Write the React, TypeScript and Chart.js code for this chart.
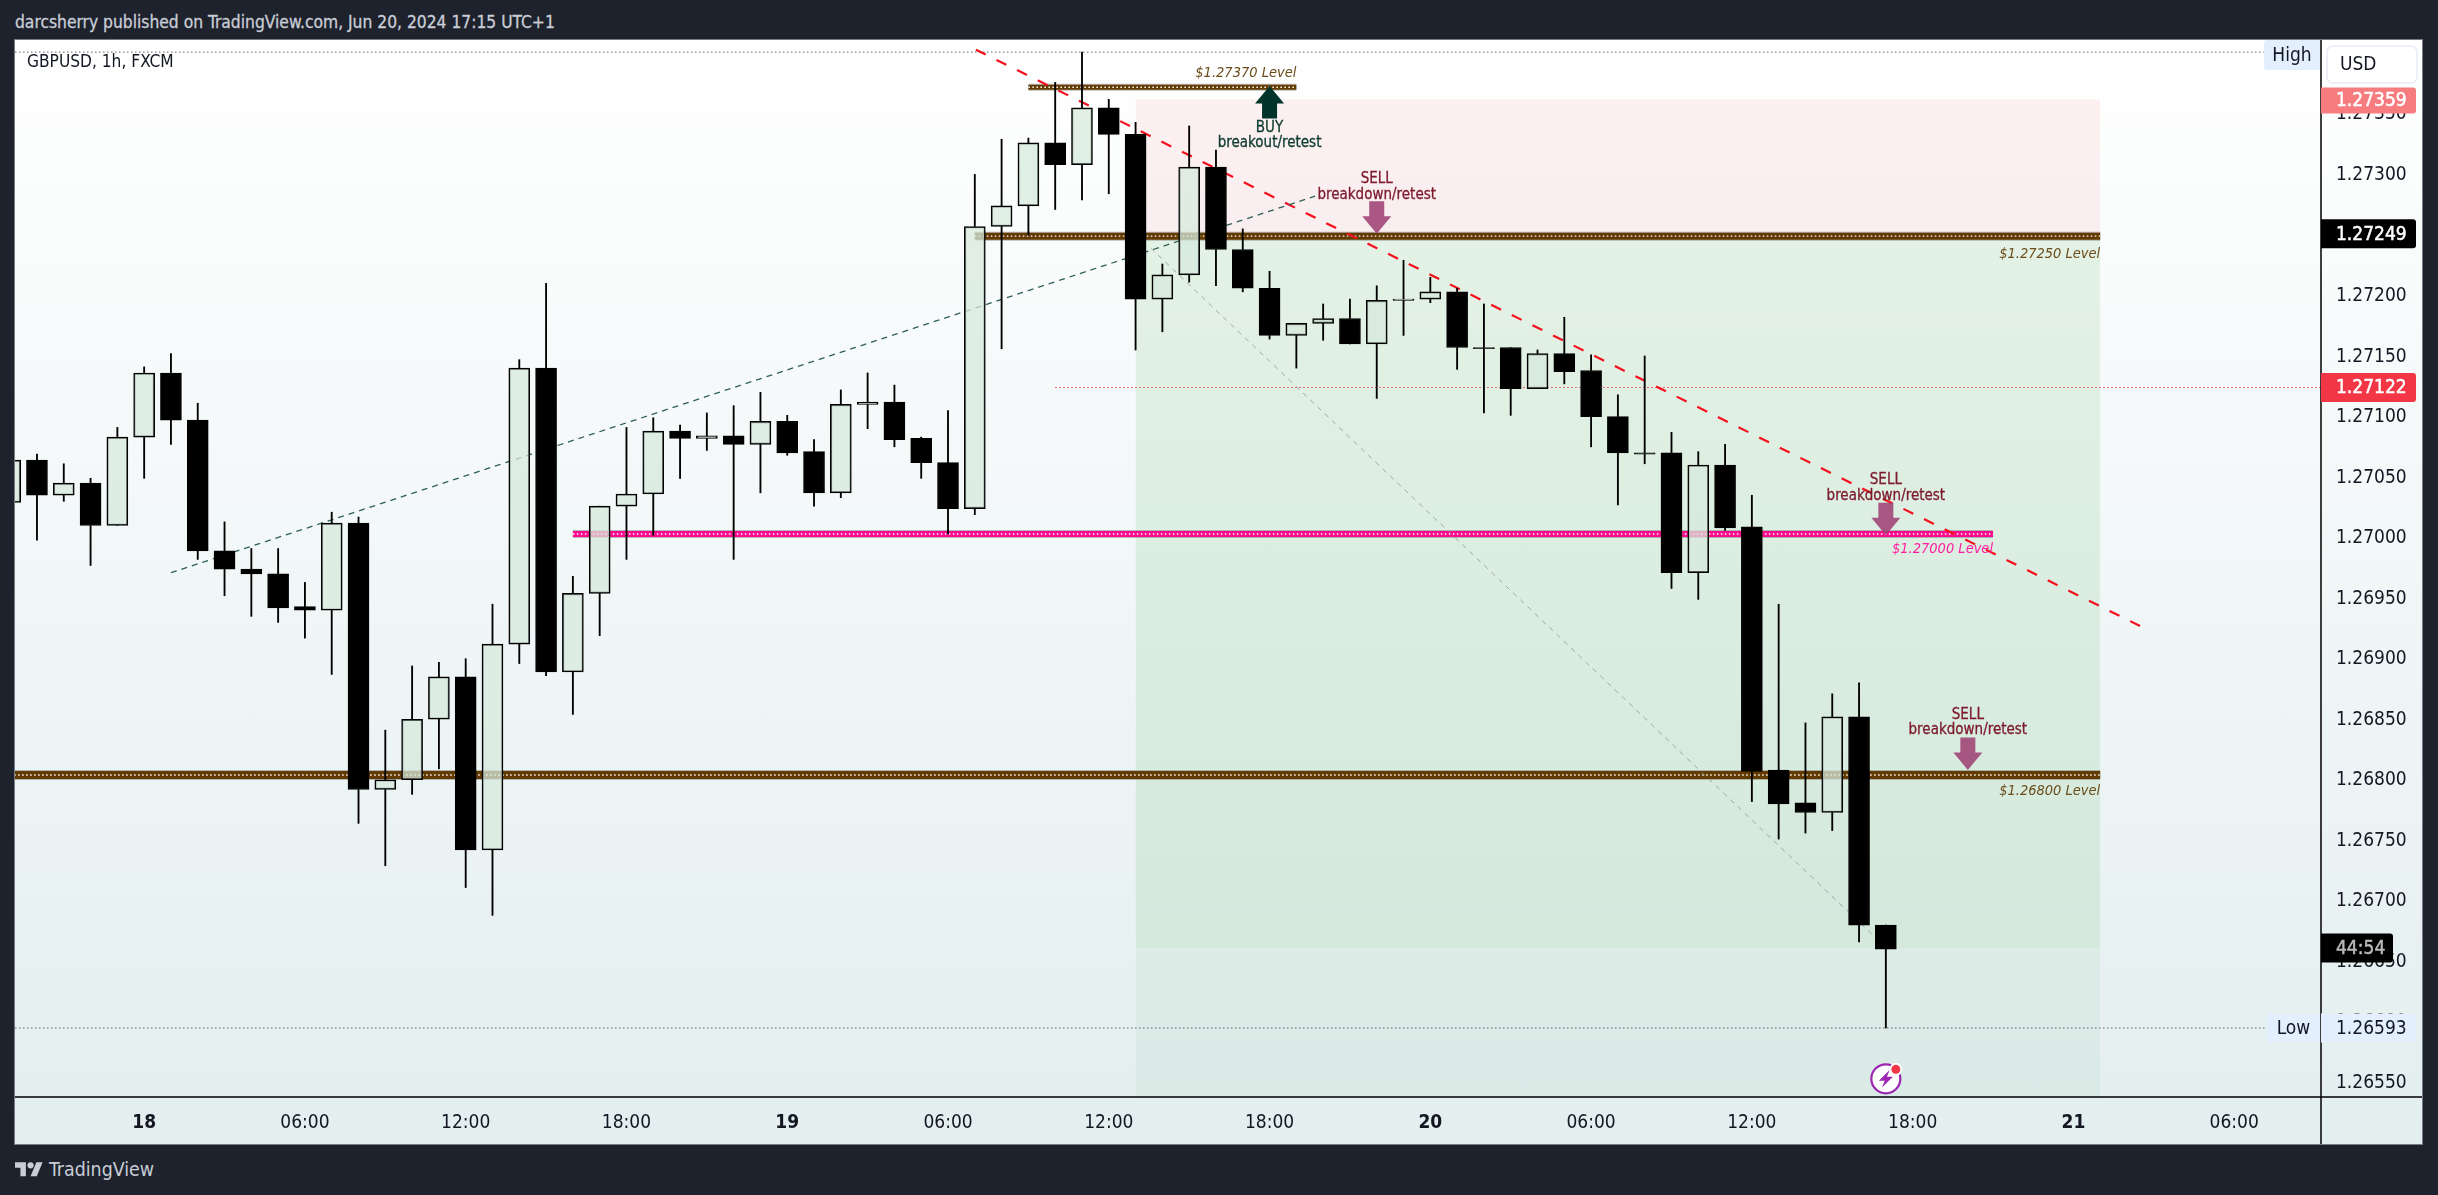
import { useEffect, useRef } from 'react'
import Chart from 'chart.js/auto'

const FONT = '"DejaVu Sans Condensed", "DejaVu Sans", sans-serif'
const CANVAS_W = 2407
const CANVAS_H = 1104

// hours counted from Jun 18 00:00
const hours = [
  -5, -4, -3, -2, -1, 0, 1, 2, 3, 4, 5, 6, 7, 8, 9, 10, 11, 12, 13, 14, 15, 16, 17, 18,
  19, 20, 21, 22, 23, 24, 25, 26, 27, 28, 29, 30, 31, 32, 33, 34, 35, 36, 37, 38, 39, 40, 41, 42,
  43, 44, 45, 46, 47, 48, 49, 50, 51, 52, 53, 54, 55, 56, 57, 58, 59, 60, 61, 62, 63, 64, 65,
]
const opens = [
  1.27027, 1.27062, 1.27033, 1.27043, 1.27008, 1.27081, 1.27134, 1.27095, 1.26987, 1.26972, 1.26968, 1.26941,
  1.26938, 1.2701, 1.2679, 1.26798, 1.26848, 1.26883, 1.2674, 1.2691, 1.27138, 1.26887, 1.26952, 1.27024,
  1.27034, 1.27086, 1.2708, 1.27082, 1.27075, 1.27094, 1.27069, 1.27035, 1.27108, 1.2711, 1.2708, 1.2706,
  1.27022, 1.27255, 1.27272, 1.27324, 1.27306, 1.27353, 1.27331, 1.27195, 1.27215, 1.27304, 1.27236, 1.27204,
  1.27165, 1.27175, 1.27179, 1.27158, 1.27194, 1.27195, 1.27201, 1.27155, 1.27155, 1.27121, 1.2715, 1.27136,
  1.27098, 1.27068, 1.27068, 1.26969, 1.27058, 1.27007, 1.26806, 1.26779, 1.26771, 1.2685, 1.26678,
]
const closes = [
  1.27062, 1.27033, 1.27043, 1.27008, 1.27081, 1.27134, 1.27095, 1.26987, 1.26972, 1.26968, 1.2694, 1.26938,
  1.2701, 1.2679, 1.26798, 1.26848, 1.26883, 1.2674, 1.2691, 1.27138, 1.26887, 1.26952, 1.27024, 1.27034,
  1.27086, 1.2708, 1.27082, 1.27075, 1.27094, 1.27068, 1.27035, 1.27108, 1.2711, 1.27079, 1.2706, 1.27022,
  1.27255, 1.27272, 1.27324, 1.27306, 1.27353, 1.27331, 1.27195, 1.27215, 1.27304, 1.27236, 1.27204, 1.27165,
  1.27175, 1.27179, 1.27158, 1.27194, 1.27195, 1.27201, 1.27155, 1.27154, 1.27121, 1.2715, 1.27135, 1.27098,
  1.27068, 1.27067, 1.26969, 1.27058, 1.27006, 1.26805, 1.26778, 1.26771, 1.2685, 1.26678, 1.26658,
]
const highs = [
  1.27062, 1.27067, 1.27059, 1.27047, 1.27089, 1.27139, 1.2715, 1.27109, 1.27011, 1.26989, 1.26989, 1.26961,
  1.27019, 1.27015, 1.26839, 1.26892, 1.26895, 1.26898, 1.26943, 1.27145, 1.27208, 1.26966, 1.27024, 1.27089,
  1.27097, 1.27091, 1.27101, 1.27107, 1.27118, 1.27099, 1.27079, 1.2712, 1.27134, 1.27124, 1.27081, 1.27103,
  1.27298, 1.27327, 1.27328, 1.27374, 1.27399, 1.2736, 1.27341, 1.27224, 1.27338, 1.27318, 1.27253, 1.27218,
  1.27175, 1.27191, 1.27195, 1.27206, 1.27227, 1.27213, 1.27204, 1.27191, 1.27155, 1.27153, 1.2718, 1.27149,
  1.27116, 1.27148, 1.27085, 1.27069, 1.27075, 1.27033, 1.26943, 1.26845, 1.26869, 1.26878, 1.26678,
]
const lows = [
  1.27027, 1.26996, 1.27028, 1.26975, 1.27008, 1.27047, 1.27075, 1.2698, 1.2695, 1.26933, 1.26928, 1.26915,
  1.26885, 1.26762, 1.26727, 1.26786, 1.26807, 1.26709, 1.26686, 1.26894, 1.26884, 1.26852, 1.26917, 1.2698,
  1.27, 1.27047, 1.2707, 1.2698, 1.27035, 1.27066, 1.27024, 1.27031, 1.27088, 1.27073, 1.27047, 1.27001,
  1.27017, 1.27154, 1.27248, 1.27269, 1.27277, 1.27282, 1.27153, 1.27168, 1.27209, 1.27206, 1.27201, 1.27162,
  1.27138, 1.27161, 1.27158, 1.27113, 1.27165, 1.27192, 1.27137, 1.27101, 1.27099, 1.27121, 1.27125, 1.27073,
  1.27025, 1.27059, 1.26956, 1.26947, 1.27004, 1.2678, 1.26749, 1.26754, 1.26756, 1.26664, 1.26593,
]

const xMin = -4.82
const xMax = 81.24
const yMin = 1.26536
const yMax = 1.27409

const timeTicks = [0, 6, 12, 18, 24, 30, 36, 42, 48, 54, 60, 66, 72, 78]
const timeLabels = ['18', '06:00', '12:00', '18:00', '19', '06:00', '12:00', '18:00', '20', '06:00', '12:00', '18:00', '21', '06:00']
const priceTicks = [
  1.2655, 1.266, 1.2665, 1.267, 1.2675, 1.268, 1.2685, 1.269, 1.2695, 1.27, 1.2705, 1.271, 1.2715, 1.272, 1.2725, 1.273, 1.2735,
]

// horizontal levels: [start hour, end hour, price]
const brownLevels = [
  [33, 43, 1.2737],
  [31, 73, 1.27247],
  [-5, 73, 1.26802],
]
const brownWidths = [5, 7, 8]
const pinkLevel = [16, 69, 1.27001]

// trend lines: [start hour, start price, end hour, end price]
const redTrend = [31.04, 1.27401, 74.76, 1.26922]
const greenTrend = [1, 1.26969, 43.7, 1.2728]
const greyTrend = [37.57, 1.27237, 64.55, 1.26669]

// long position tool
const boxStart = 37
const boxEnd = 73
const stopPrice = 1.2736
const entryPrice = 1.27249
const targetPrice = 1.26659

const highPrice = 1.27399
const lowPrice = 1.26593
const lastPrice = 1.27122

const noteTexts = ['BUY', 'breakout/retest', 'SELL', 'breakdown/retest', 'SELL', 'breakdown/retest', 'SELL', 'breakdown/retest']
const noteHours = [42, 42, 46, 46, 65, 65, 68.06, 68.06]
const notePrices = [1.27337, 1.27325, 1.27295, 1.27282, 1.27046, 1.27033, 1.26852, 1.2684]
const noteColors = ['#0d3b30', '#0d3b30', '#7c1a2c', '#7c1a2c', '#7c1a2c', '#7c1a2c', '#7c1a2c', '#7c1a2c']

const levelTexts = ['$1.27370 Level', '$1.27250 Level', '$1.27000 Level', '$1.26800 Level']
const levelTextHours = [43, 73, 69, 73]
const levelTextPrices = [1.27382, 1.27233, 1.26989, 1.26789]
const levelTextColors = ['#6b4c1a', '#6b4c1a', '#ff1ea0', '#6b4c1a']

const sellArrowHours = [46, 65, 68.06]
const sellArrowPrices = [1.27249, 1.27, 1.26806]
const buyArrowHour = 42
const buyArrowPrice = 1.27371

const lightningHour = 65
const lightningPrice = 1.26551

const seg = (x0: number, y0: number, x1: number, y1: number) => [{ x: x0, y: y0 }, { x: x1, y: y1 }]

function lineSet(data: any[], color: string, width: number, dash: number[], order: number) {
  return {
    type: 'line' as const,
    data,
    borderColor: color,
    borderWidth: width,
    borderDash: dash,
    borderCapStyle: 'butt' as const,
    pointRadius: 0,
    tension: 0,
    order,
  }
}

function fillSet(x0: number, x1: number, top: number, bottom: number, color: string, order: number) {
  return {
    type: 'line' as const,
    data: seg(x0, top, x1, top),
    borderWidth: 0,
    pointRadius: 0,
    backgroundColor: color,
    fill: { value: bottom },
    order,
  }
}

function levelSets(level: number[], core: string, edge: string, width: number) {
  const d = seg(level[0], level[2], level[1], level[2])
  return [
    lineSet(d, edge, width + 2, [], 42),
    lineSet(d, core, width, [], 41),
    lineSet(d, '#ffffff', 1.4, [1.5, 2.5], 40),
  ]
}

const isUp = hours.map((_, i) => closes[i] >= opens[i])

function barSet(data: any[], thickness: number, fill: string, border: string, borderWidth: number, order: number) {
  return {
    type: 'bar' as const,
    data,
    barThickness: thickness,
    grouped: false,
    backgroundColor: fill,
    borderColor: border,
    borderWidth,
    borderSkipped: false,
    order,
  }
}

const annotations = {
  id: 'annotations',
  afterDatasetsDraw(chart: any) {
    const { ctx, scales } = chart
    const px = (h: number) => scales.x.getPixelForValue(h)
    const py = (p: number) => scales.y.getPixelForValue(p)
    ctx.save()
    ctx.textBaseline = 'middle'

    ctx.font = `15px ${FONT}`
    ctx.textAlign = 'center'
    ctx.lineWidth = 0.3
    noteTexts.forEach((t, i) => {
      ctx.fillStyle = noteColors[i]
      ctx.strokeStyle = noteColors[i]
      ctx.fillText(t, px(noteHours[i]), py(notePrices[i]) + 1)
      ctx.strokeText(t, px(noteHours[i]), py(notePrices[i]) + 1)
    })

    ctx.font = `italic 14.5px ${FONT}`
    ctx.textAlign = 'right'
    levelTexts.forEach((t, i) => {
      ctx.fillStyle = levelTextColors[i]
      ctx.fillText(t, px(levelTextHours[i]), py(levelTextPrices[i]) + 1)
    })

    // arrows
    const arrow = (x: number, tip: number, dir: number, color: string) => {
      ctx.fillStyle = color
      ctx.beginPath()
      ctx.moveTo(x, tip)
      ctx.lineTo(x + 14.5, tip + dir * 17.5)
      ctx.lineTo(x + 7.5, tip + dir * 17.5)
      ctx.lineTo(x + 7.5, tip + dir * 32.5)
      ctx.lineTo(x - 7.5, tip + dir * 32.5)
      ctx.lineTo(x - 7.5, tip + dir * 17.5)
      ctx.lineTo(x - 14.5, tip + dir * 17.5)
      ctx.closePath()
      ctx.fill()
    }
    arrow(px(buyArrowHour), py(buyArrowPrice), 1, '#00332a')
    sellArrowHours.forEach((h, i) => arrow(px(h), py(sellArrowPrices[i]), -1, 'rgba(158, 66, 116, 0.88)'))

    ctx.textAlign = 'left'
    ctx.font = `17.2px ${FONT}`
    ctx.fillStyle = '#131722'
    ctx.fillText('GBPUSD, 1h, FXCM', 12, 23)

    // lightning badge
    const bx = px(lightningHour)
    const by = py(lightningPrice)
    ctx.beginPath()
    ctx.arc(bx, by, 14.5, 0, Math.PI * 2)
    ctx.fillStyle = '#ffffff'
    ctx.fill()
    ctx.lineWidth = 2.2
    ctx.strokeStyle = '#9c27b0'
    ctx.stroke()
    ctx.fillStyle = '#9c27b0'
    ctx.beginPath()
    ctx.moveTo(bx + 4, by - 9)
    ctx.lineTo(bx - 7, by + 2)
    ctx.lineTo(bx - 1, by + 2)
    ctx.lineTo(bx - 4, by + 9)
    ctx.lineTo(bx + 7, by - 2)
    ctx.lineTo(bx + 1, by - 2)
    ctx.closePath()
    ctx.fill()
    ctx.beginPath()
    ctx.arc(bx + 10, by - 9.5, 6.5, 0, Math.PI * 2)
    ctx.fillStyle = '#ffffff'
    ctx.fill()
    ctx.beginPath()
    ctx.arc(bx + 10, by - 9.5, 4.5, 0, Math.PI * 2)
    ctx.fillStyle = '#f23645'
    ctx.fill()
    ctx.restore()
  },
  afterDraw(chart: any) {
    const { ctx, chartArea, scales, width, height } = chart
    const py = (p: number) => scales.y.getPixelForValue(p)
    const axisX = chartArea.right
    const axisY = chartArea.bottom
    ctx.save()
    ctx.strokeStyle = '#000000'
    ctx.lineWidth = 1.5
    ctx.beginPath()
    ctx.moveTo(axisX, 0)
    ctx.lineTo(axisX, height)
    ctx.moveTo(0, axisY)
    ctx.lineTo(width, axisY)
    ctx.stroke()

    ctx.textBaseline = 'middle'
    const tag = (text: string, price: number, w: number, h: number, bg: string, fg: string, heavy: boolean) => {
      const y = py(price)
      ctx.fillStyle = bg
      ctx.beginPath()
      ctx.roundRect(axisX, y - h / 2, w, h, [0, 3, 3, 0])
      ctx.fill()
      ctx.fillStyle = fg
      ctx.font = `19px ${FONT}`
      ctx.textAlign = 'left'
      ctx.fillText(text, axisX + 15, y + 1)
      if (heavy) {
        ctx.strokeStyle = fg
        ctx.lineWidth = 0.5
        ctx.strokeText(text, axisX + 15, y + 1)
      }
    }
    tag('1.27359', stopPrice - 0.00001, 95, 26, '#f77c80', '#ffffff', true)
    tag('1.27249', entryPrice, 95, 29, '#000000', '#ffffff', true)
    tag('1.27122', lastPrice, 95, 29, '#f23645', '#ffffff', true)
    tag('44:54', targetPrice, 72, 29, '#000000', '#b8b8b8', true)
    tag('1.26593', lowPrice, 95, 29, '#e3effd', '#131722', false)

    const sideTag = (text: string, y: number, x: number, w: number, h: number) => {
      ctx.fillStyle = '#e3effd'
      ctx.beginPath()
      ctx.roundRect(x, y - h / 2, w, h, [3, 0, 0, 3])
      ctx.fill()
      ctx.fillStyle = '#131722'
      ctx.font = `19px ${FONT}`
      ctx.textAlign = 'center'
      ctx.fillText(text, x + w / 2, y + 1)
    }
    sideTag('High', 15, axisX - 57, 56, 30)
    sideTag('Low', py(lowPrice), axisX - 54, 53, 29)

    ctx.fillStyle = '#ffffff'
    ctx.strokeStyle = '#e8ebf5'
    ctx.lineWidth = 1.5
    ctx.beginPath()
    ctx.roundRect(axisX + 6, 6, 90, 37, 6)
    ctx.fill()
    ctx.stroke()
    ctx.fillStyle = '#131722'
    ctx.font = `19px ${FONT}`
    ctx.textAlign = 'left'
    ctx.fillText('USD', axisX + 19, 25)
    ctx.restore()
  },
}

export default function App() {
  const canvasRef = useRef<HTMLCanvasElement>(null)

  useEffect(() => {
    if (!canvasRef.current) return
    document.body.style.margin = '0'

    const upBodies = hours.flatMap((h, i) => (isUp[i] ? [{ x: h, y: [opens[i], closes[i]] }] : []))
    const downBodies = hours.flatMap((h, i) => (isUp[i] ? [] : [{ x: h, y: [opens[i], closes[i]] }]))
    const upperWicks = hours.map((h, i) => ({ x: h, y: [Math.max(opens[i], closes[i]), highs[i]] }))
    const lowerWicks = hours.map((h, i) => ({ x: h, y: [lows[i], Math.min(opens[i], closes[i])] }))

    const chart = new Chart(canvasRef.current, {
      type: 'bar',
      data: {
        datasets: [
          fillSet(boxStart, boxEnd, stopPrice, entryPrice, 'rgba(242, 54, 69, 0.07)', 60),
          fillSet(boxStart, boxEnd, entryPrice, targetPrice, 'rgba(76, 175, 80, 0.13)', 61),
          fillSet(boxStart, boxEnd, targetPrice, yMin, 'rgba(76, 175, 80, 0.06)', 62),
          lineSet(seg(xMin, highPrice, 79.1, highPrice), '#5d6068', 1, [1.5, 2.5], 50),
          lineSet(seg(xMin, lowPrice, 79.2, lowPrice), '#5d6068', 1, [1.5, 2.5], 50),
          lineSet(seg(34, lastPrice, xMax, lastPrice), '#e2404f', 1, [1.5, 2.5], 50),
          ...brownLevels.flatMap((l, i) => levelSets(l, '#633b00', 'rgba(120, 120, 120, 0.5)', brownWidths[i])),
          ...levelSets(pinkLevel, '#ff0a8c', 'rgba(120, 120, 120, 0.5)', 6),
          lineSet(seg(greyTrend[0], greyTrend[1], greyTrend[2], greyTrend[3]), 'rgba(130, 140, 140, 0.7)', 1, [5, 5], 30),
          lineSet(seg(greenTrend[0], greenTrend[1], greenTrend[2], greenTrend[3]), '#2f5f55', 1.3, [6, 5], 30),
          lineSet(seg(redTrend[0], redTrend[1], redTrend[2], redTrend[3]), '#f50f1c', 2.2, [11, 12], 30),
          barSet(upperWicks, 1.2, '#000000', '#000000', 0, 20),
          barSet(lowerWicks, 1.2, '#000000', '#000000', 0, 20),
          barSet(upBodies, 21, 'rgba(215, 233, 220, 0.75)', '#000000', 1.5, 10),
          barSet(downBodies, 21, '#000000', '#000000', 1, 10),
        ] as any,
      },
      options: {
        animation: false,
        responsive: false,
        devicePixelRatio: 1,
        events: [],
        layout: { padding: 0 },
        plugins: { legend: { display: false }, tooltip: { enabled: false } },
        scales: {
          x: {
            type: 'linear',
            min: xMin,
            max: xMax,
            offset: false,
            grid: { display: false, drawTicks: false },
            border: { display: false },
            afterBuildTicks: (s: any) => {
              s.ticks = timeTicks.map(value => ({ value }))
            },
            afterFit: (s: any) => {
              s.height = 47
              s.paddingLeft = 0
              s.paddingRight = 0
            },
            ticks: {
              autoSkip: false,
              maxRotation: 0,
              padding: 15,
              color: '#131722',
              font: (c: any) => ({ family: FONT, size: 19, weight: c.tick && c.tick.value % 24 === 0 ? 'bold' : 'normal' }),
              callback: (v: any) => timeLabels[timeTicks.indexOf(v)],
            },
          },
          y: {
            position: 'right',
            min: yMin,
            max: yMax,
            grid: { display: false, drawTicks: false },
            border: { display: false },
            afterBuildTicks: (s: any) => {
              s.ticks = priceTicks.map(value => ({ value }))
            },
            afterFit: (s: any) => {
              s.width = 101
              s.paddingTop = 0
              s.paddingBottom = 0
            },
            ticks: {
              autoSkip: false,
              padding: 15,
              labelOffset: 3,
              color: '#131722',
              font: { family: FONT, size: 19 },
              callback: (v: any) => Number(v).toFixed(5),
            },
          },
        },
      },
      plugins: [annotations],
    } as any)

    return () => chart.destroy()
  }, [])

  return (
    <div style={{ position: 'fixed', left: 0, top: 0, width: 2438, height: 1195, background: '#1e222d', fontFamily: FONT, overflow: 'hidden' }}>
      <div style={{ position: 'absolute', left: 15, top: 11, color: '#c9cdd6', fontSize: 17.3, lineHeight: '22px', whiteSpace: 'nowrap', WebkitTextStroke: '0.3px #c9cdd6' }}>
        darcsherry published on TradingView.com, Jun 20, 2024 17:15 UTC+1
      </div>
      <canvas
        ref={canvasRef}
        width={CANVAS_W}
        height={CANVAS_H}
        style={{
          position: 'absolute',
          left: 15,
          top: 40,
          width: CANVAS_W,
          height: CANVAS_H,
          background: 'linear-gradient(#ffffff, #e3eeef)',
          boxShadow: '0 0 0 1px #787b86',
        }}
      />
      <svg style={{ position: 'absolute', left: 15, top: 1159 }} width={28} height={22} viewBox="0 0 36 28">
        <path fill="#c9cdd6" d="M14 22H7V11H0V4h14v18zM28 22h-8l7.5-18h8L28 22z" />
        <circle fill="#c9cdd6" cx="20" cy="8" r="4" />
      </svg>
      <div style={{ position: 'absolute', left: 49, top: 1158, color: '#c9cdd6', fontSize: 19.4, lineHeight: '24px' }}>TradingView</div>
    </div>
  )
}
